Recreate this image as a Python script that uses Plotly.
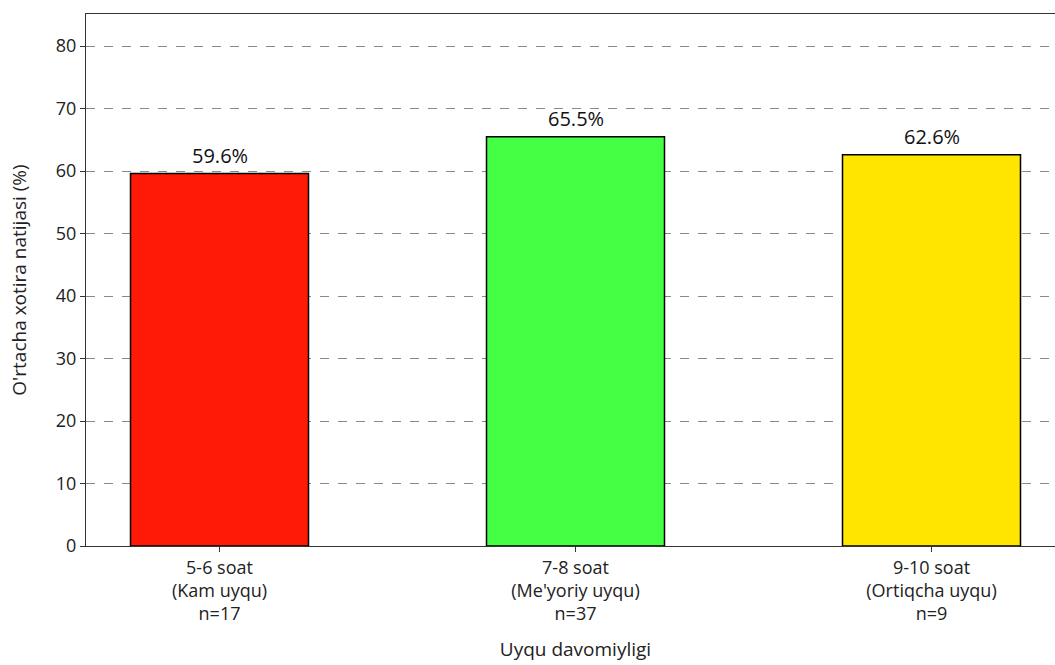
import plotly.graph_objects as go

categories = ["5-6 soat<br>(Kam uyqu)<br>n=17", "7-8 soat<br>(Me'yoriy uyqu)<br>n=37", "9-10 soat<br>(Ortiqcha uyqu)<br>n=9"]
values = [59.6, 65.5, 62.6]
bar_colors = ["#FF1A08", "#44FF44", "#FFE500"]
yticks = [0, 10, 20, 30, 40, 50, 60, 70, 80]

FONT = "Open Sans"

fig = go.Figure()
fig.add_trace(go.Bar(
    x=list(range(len(values))),
    y=values,
    width=0.5,
    marker=dict(color=bar_colors, line=dict(color="black", width=1.5)),
    hoverinfo="skip",
))

for i, v in enumerate(values):
    fig.add_annotation(x=i, y=v, text=f"{v:.1f}%", showarrow=False,
                       yanchor="bottom", yshift=3,
                       font=dict(family=FONT, size=20, color="#111"))

fig.update_layout(
    width=1070, height=665,
    margin=dict(l=86, r=5, t=14, b=119),
    plot_bgcolor="white", paper_bgcolor="white",
    font=dict(family=FONT, size=18, color="#222"),
    showlegend=False,
)
fig.update_xaxes(
    range=[-0.375, 2.375],
    tickmode="array", tickvals=[0, 1, 2], ticktext=categories,
    showline=True, linecolor="#333", linewidth=1, mirror=True,
    ticks="outside", ticklen=5, tickcolor="#333",
    showgrid=False, zeroline=False,
    tickfont=dict(family=FONT, size=18, color="#222"),
    title=dict(text="Uyqu davomiyligi", font=dict(family=FONT, size=19, color="#222"), standoff=18),
)
fig.update_yaxes(
    range=[0, 85.12],
    tickmode="array", tickvals=yticks,
    showline=True, linecolor="#333", linewidth=1,
    ticks="outside", ticklen=5, tickcolor="#333",
    showgrid=True, gridcolor="#888", griddash="dash", gridwidth=1,
    zeroline=False,
    tickfont=dict(family=FONT, size=18, color="#222"),
    title=dict(text="O'rtacha xotira natijasi (%)", font=dict(family=FONT, size=19, color="#222"), standoff=24),
)

fig.write_html(
    "out.html",
    config={"displayModeBar": False},
    post_script="document.documentElement.style.overflow='hidden';document.body.style.overflow='hidden';document.body.style.margin='0';",
)
